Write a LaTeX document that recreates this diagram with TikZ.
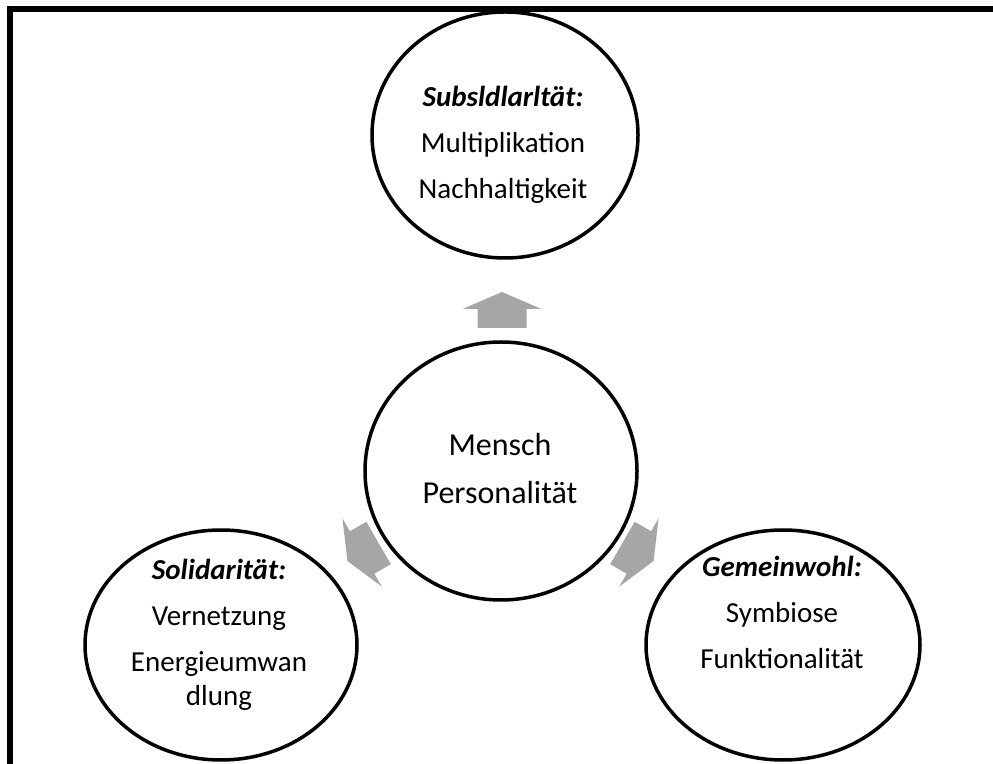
\documentclass[tikz,border=0pt]{standalone}
\usepackage{fontspec}
\setmainfont{Carlito}
\usetikzlibrary{shapes.geometric}

\begin{document}
\begin{tikzpicture}[
            x = 1pt, y = 1pt,
            kreis/.style = {draw, ellipse, line width = 3.5pt, inner sep = 0mm},
            txt/.style = {align = center, font = \fontsize{29}{46}\selectfont},
            mitte/.style = {align = center, font = \fontsize{32}{48}\selectfont},
            pfeil/.pic = {\fill[black!35] (18,0) -- (1,39.5) -- (1,24.5) -- (-18,24.5)
                          -- (-18,-24.5) -- (1,-24.5) -- (1,-39.5) -- cycle;},
        ]
        \useasboundingbox (0,0) rectangle (993,763);

        % rahmen
        \draw[line width = 6pt] (10,-5) -- (10,754) -- (998,754);

        \node (subs) [kreis, minimum width = 266pt, minimum height = 246pt] at (505,628){};
        \node (mensch) [kreis, minimum width = 272pt, minimum height = 258pt] at (501,292){};
        \node (soli) [kreis, minimum width = 272pt, minimum height = 230pt] at (221,118){};
        \node (gemein) [kreis, minimum width = 274pt, minimum height = 230pt] at (783,118){};

        \node (substxt) [txt] at (503,618) {\textbf{\textit{Subsldlarltät:}}\\Multiplikation\\Nachhaltigkeit};
        \node (menschtxt) [mitte] at (500,294) {Mensch\\Personalität};
        \node (solitxt) [txt] at (219,128) {\textbf{\textit{Solidarität:}}\\Vernetzung\\Energieumwan\\[-12pt]dlung};
        \node (gemeintxt) [txt] at (782,151) {\textbf{\textit{Gemeinwohl:}}\\Symbiose\\Funktionalität};

        \pic[rotate = 90] at (502,453) {pfeil};
        \pic[rotate = 210] at (363,211) {pfeil};
        \pic[rotate = 330] at (638,211) {pfeil};
    \end{tikzpicture}
\end{document}
